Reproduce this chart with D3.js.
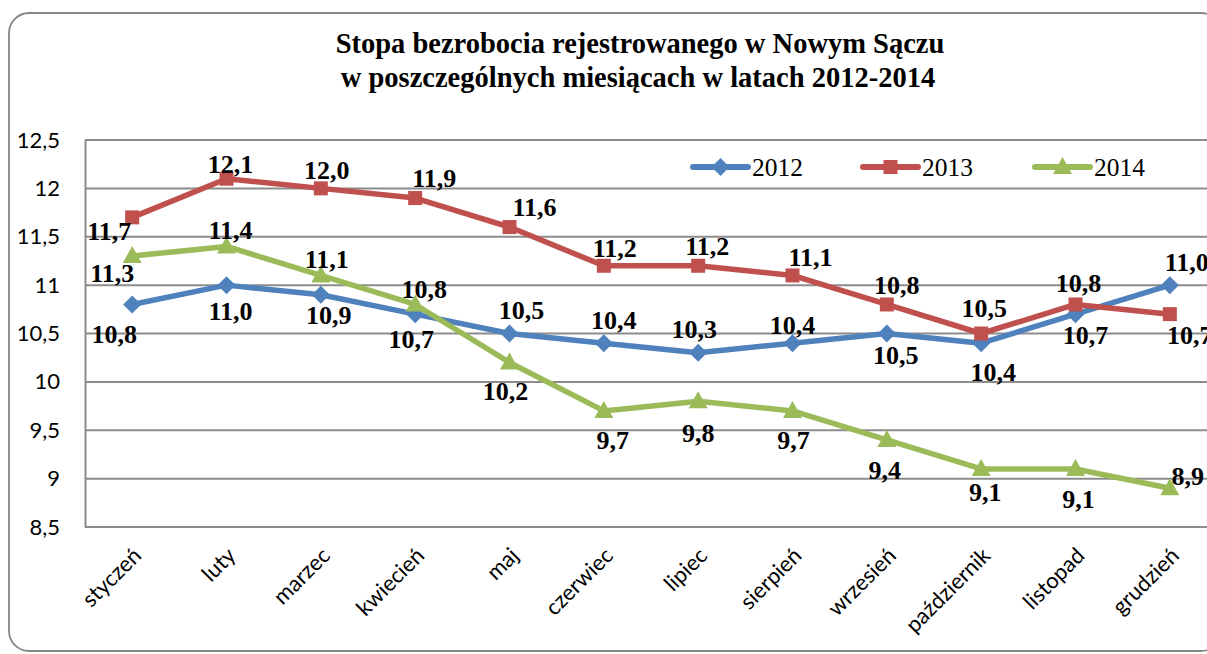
<!DOCTYPE html>
<html>
<head>
<meta charset="utf-8">
<script src="https://cdn.jsdelivr.net/npm/d3@7"></script>
<style>
  body { margin: 0; background: #fff; }
  .title { font-family: "Liberation Serif", "Times New Roman", serif; font-weight: bold; font-size: 28.5px; }
  .lbl { font-family: "Liberation Serif", "Times New Roman", serif; font-weight: bold; font-size: 26px; }
  .legend text { font-family: "Liberation Serif", "Times New Roman", serif; font-size: 25.5px; }
  .axis text { font-family: Lato, "Open Sans", sans-serif; font-size: 22px; fill: #000; }
</style>
</head>
<body>
<div id="chart-container"></div>
<script>
// chart data
const months = ["styczeń", "luty", "marzec", "kwiecień", "maj", "czerwiec", "lipiec",
    "sierpień", "wrzesień", "październik", "listopad", "grudzień"];
const years = ["2012", "2013", "2014"];
const values2012 = [10.8, 11.0, 10.9, 10.7, 10.5, 10.4, 10.3, 10.4, 10.5, 10.4, 10.7, 11.0];
const values2013 = [11.7, 12.1, 12.0, 11.9, 11.6, 11.2, 11.2, 11.1, 10.8, 10.5, 10.8, 10.7];
const values2014 = [11.3, 11.4, 11.1, 10.8, 10.2, 9.7, 9.8, 9.7, 9.4, 9.1, 9.1, 8.9];
const yTicks = [8.5, 9, 9.5, 10, 10.5, 11, 11.5, 12, 12.5];

// where each data label sits relative to its marker (dx, dy of the label centre)
const labelShift2012 = [[-18, 30], [4, 26], [8, 21], [-4, 25], [12, -23], [10, -23],
    [-4, -23], [0, -18], [9, 22], [12, 29], [10, 21], [17, -23]];
const labelShift2013 = [[-23, 14], [4, -14], [6, -18], [19, -20], [25, -20], [11, -17],
    [9, -19], [18, -18], [10, -19], [3, -25], [3, -21], [20, 21]];
const labelShift2014 = [[-20, 17], [4, -16], [6, -16], [9, -15], [-4, 29], [9, 30],
    [0, 32], [1, 30], [-2, 31], [4, 24], [3, 31], [18, -12]];

const colors = ["#4f81bd", "#c0504d", "#9bbb59"];
const markers = ["diamond", "square", "triangle"];

const series = years.map((y, k) => ({
    name: y,
    values: [values2012, values2013, values2014][k],
    shift: [labelShift2012, labelShift2013, labelShift2014][k],
    color: colors[k],
    marker: markers[k]
}));

const svgWidth = 1207;
const svgHeight = 654;
const plot = { left: 85, right: 1217, top: 140, bottom: 527 };

const svg = d3.select("#chart-container")
    .append("svg")
    .attr("width", svgWidth)
    .attr("height", svgHeight);

// outer rounded frame
svg.append("rect")
    .attr("x", 9).attr("y", 13)
    .attr("width", 1212).attr("height", 638)
    .attr("rx", 20)
    .attr("fill", "#fff")
    .attr("stroke", "#868686")
    .attr("stroke-width", 1.8);

const x = d3.scalePoint()
    .domain(months)
    .range([plot.left, plot.right])
    .padding(0.5);

const y = d3.scaleLinear()
    .domain([8.5, 12.5])
    .range([plot.bottom, plot.top]);

const fmt = v => d3.format(".1f")(v).replace(".", ",");

// gridlines
svg.append("g")
    .selectAll("line")
    .data(yTicks)
    .join("line")
    .attr("x1", plot.left).attr("x2", plot.right)
    .attr("y1", d => y(d)).attr("y2", d => y(d))
    .attr("stroke", "#8c8c8c")
    .attr("stroke-width", 2);

// y axis
const yAxis = svg.append("g")
    .attr("class", "axis")
    .attr("transform", `translate(${plot.left},0)`)
    .call(d3.axisLeft(y).tickValues(yTicks).tickSize(0).tickPadding(25)
        .tickFormat(d => String(d).replace(".", ",")));
yAxis.select(".domain").attr("stroke", "#8c8c8c").attr("stroke-width", 2);

// x axis labels, rotated
const xAxis = svg.append("g")
    .attr("class", "axis")
    .attr("transform", `translate(0,${plot.bottom})`)
    .call(d3.axisBottom(x).tickSize(0));
xAxis.select(".domain").remove();
xAxis.selectAll(".tick text")
    .attr("text-anchor", "end")
    .attr("dy", 0)
    .attr("y", 0)
    .attr("transform", "translate(10,30) rotate(-45)");

function markerPath(type) {
    if (type === "diamond") return "M0,-9L9,0L0,9L-9,0Z";
    if (type === "square") return "M-7,-7H7V7H-7Z";
    return "M0,-10L9.5,7L-9.5,7Z";
}

const line = d3.line()
    .x((d, i) => x(months[i]))
    .y(d => y(d));

const seriesG = svg.append("g")
    .selectAll("g")
    .data(series)
    .join("g");

seriesG.append("path")
    .attr("d", d => line(d.values))
    .attr("fill", "none")
    .attr("stroke", d => d.color)
    .attr("stroke-width", 5.5)
    .attr("stroke-linejoin", "round");

seriesG.each(function (s) {
    d3.select(this).selectAll(".mark")
        .data(s.values)
        .join("path")
        .attr("class", "mark")
        .attr("d", markerPath(s.marker))
        .attr("transform", (d, i) => `translate(${x(months[i])},${y(d)})`)
        .attr("fill", s.color);
});

// data labels
const labelG = svg.append("g");
series.forEach(s => {
    labelG.selectAll(null)
        .data(s.values)
        .join("text")
        .attr("class", "lbl")
        .attr("text-anchor", "middle")
        .attr("dominant-baseline", "central")
        .attr("x", (d, i) => x(months[i]) + s.shift[i][0])
        .attr("y", (d, i) => y(d) + s.shift[i][1])
        .text(d => fmt(d));
});

// legend
const legend = svg.append("g").attr("class", "legend");
const legendX = [693, 863, 1035];
series.forEach((s, k) => {
    const g = legend.append("g").attr("transform", `translate(${legendX[k]},167)`);
    g.append("line")
        .attr("x1", 0).attr("x2", 55)
        .attr("stroke", s.color)
        .attr("stroke-width", 6)
        .attr("stroke-linecap", "round");
    g.append("path")
        .attr("d", markerPath(s.marker))
        .attr("transform", "translate(27.5,0)")
        .attr("fill", s.color);
    g.append("text")
        .attr("x", 59)
        .attr("y", 9)
        .text(s.name);
});

// title
svg.append("text")
    .attr("class", "title")
    .attr("text-anchor", "middle")
    .attr("x", 640).attr("y", 53)
    .text("Stopa bezrobocia rejestrowanego w Nowym Sączu");
svg.append("text")
    .attr("class", "title")
    .attr("text-anchor", "middle")
    .attr("x", 638).attr("y", 87)
    .text("w poszczególnych miesiącach w latach 2012-2014");
</script>
</body>
</html>
